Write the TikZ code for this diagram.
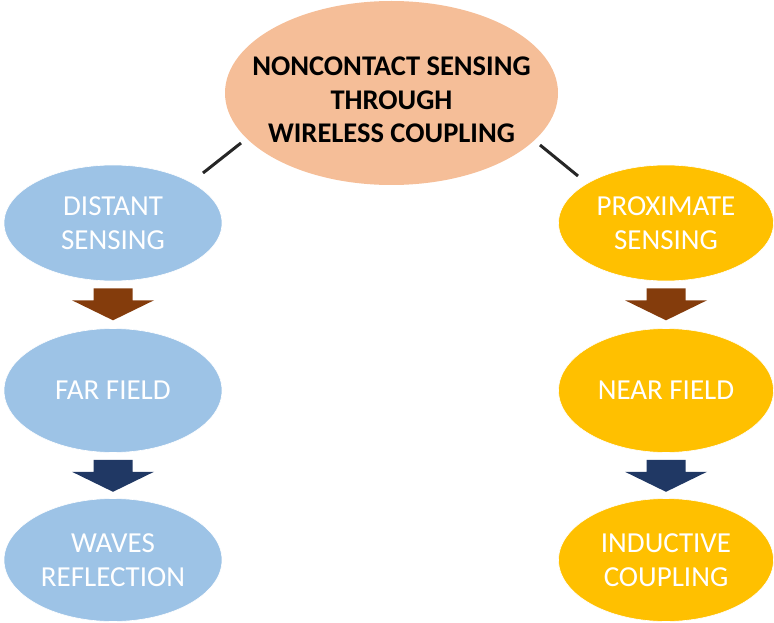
\documentclass[tikz,border=0pt]{standalone}
\usepackage{fontspec}
\setmainfont{Carlito}
\usetikzlibrary{calc,shapes.geometric}

\definecolor{salmon}{HTML}{F5BE98}
\definecolor{skyblue}{HTML}{9DC3E6}
\definecolor{gold}{HTML}{FFC000}
\definecolor{rust}{HTML}{843C0C}
\definecolor{navy}{HTML}{203864}
\definecolor{linkgray}{HTML}{262626}

% block arrow pointing down, hanging just below a node
\newcommand\downblock[2]{%
  \fill[#2,shift={($(#1.south)+(0,7)$)}]
    (-19.5,0) -- (19.5,0) -- (19.5,12) -- (41,12) -- (0,32)
    -- (-41,12) -- (-19.5,12) -- cycle;}

\begin{document}
\begin{tikzpicture}[x=1pt,y=-1pt,
  oval/.style={ellipse,inner sep=0pt,draw=white,line width=0.6pt,
    align=center,text=white,font=\fontsize{29}{34}\selectfont},
  leftoval/.style={oval,fill=skyblue,minimum width=218pt},
  rightoval/.style={oval,fill=gold,minimum width=215pt},
  link/.style={linkgray,line width=3pt}]
\useasboundingbox (0,0) rectangle (774,623);

% root ellipse with its title set a little below the centre
\node[ellipse,inner sep=0pt,fill=salmon,minimum width=333pt,minimum height=184pt]
  (root) at (391.5,93) {};
\node[align=center,inner sep=0pt,font=\fontsize{28.5}{33.5}\bfseries\selectfont]
  (title) at ($(root.center)+(0,7)$) {NONCONTACT SENSING\\THROUGH\\WIRELESS COUPLING};

\node[leftoval,minimum height=116pt] (distant) at (113,223) {DISTANT\\SENSING};
\node[leftoval,minimum height=124pt] (far) at (113,390.5) {FAR FIELD};
\node[leftoval,minimum height=123pt] (waves) at (113,560) {WAVES\\REFLECTION};

\node[rightoval,minimum height=116pt] (proximate) at (666,223) {PROXIMATE\\SENSING};
\node[rightoval,minimum height=124pt] (near) at (666,390.5) {NEAR FIELD};
\node[rightoval,minimum height=123pt] (inductive) at (666,560) {INDUCTIVE\\COUPLING};

% short links between the root and the two branches
\coordinate (rootL) at (241,143);
\coordinate (distantR) at (203,173);
\coordinate (rootR) at (540,145);
\coordinate (proximateL) at (578,176);
\draw[link] (rootL) -- (distantR);
\draw[link] (rootR) -- (proximateL);

\downblock{distant}{rust}
\downblock{far}{navy}
\downblock{proximate}{rust}
\downblock{near}{navy}
\end{tikzpicture}
\end{document}
